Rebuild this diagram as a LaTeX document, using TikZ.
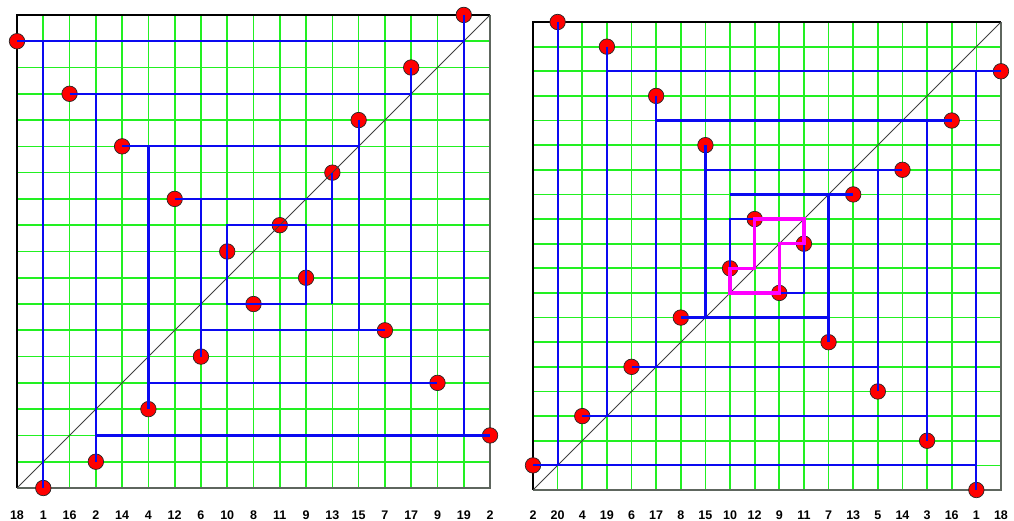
\documentclass[tikz,border=0pt]{standalone}
\usepackage{fontspec}
\setmainfont{Liberation Sans}
\usetikzlibrary{calc}
\definecolor{gridgreen}{HTML}{22F022}
\definecolor{pathblue}{HTML}{0A0AF0}
\definecolor{loopmag}{HTML}{FF00FF}
\definecolor{dotred}{HTML}{FF0000}
\definecolor{edgegray}{HTML}{5E665E}

\begin{document}
\begin{tikzpicture}[x=1pt,y=1pt,
  gridline/.style={gridgreen,line width=1.7pt},
  frameline/.style={black,line width=1.2pt},
  edgeline/.style={edgegray,line width=1.8pt},
  diag/.style={black!75,line width=0.8pt},
  bluepath/.style={pathblue,line width=2.2pt},
  magpath/.style={loopmag,line width=3.2pt,line join=miter},
  perm/.style={circle,fill=dotred,draw=black!85,line width=0.7pt,inner sep=0pt,minimum size=15.5pt},
  numlabel/.style={font=\bfseries\fontsize{12.5}{14}\selectfont}]
        \useasboundingbox (0,0) rectangle (1014,521);
        % grid points of both panels
        \foreach \i in {0,...,18}
          \foreach \j in {0,...,18}
            \coordinate (a\i-\j) at (17+26.28*\i,33+26.28*\j);
        \foreach \i in {0,...,19}
          \foreach \j in {0,...,19}
            \coordinate (b\i-\j) at (533+24.63*\i,31+24.63*\j);
        % left panel
        \foreach \i in {1,...,17} {
          \draw[gridline] (a\i-0) -- (a\i-18);
          \draw[gridline] (a0-\i) -- (a18-\i);
        }
        \draw[edgeline] (a0-0) -- (a18-0) -- (a18-18);
        \draw[frameline] (a0-0) -- (a0-18) -- (a18-18);
        \foreach \i/\r/\t in {0/17/18,1/0/1,2/15/16,3/1/2,4/13/14,5/3/4,6/11/12,7/5/6,8/9/10,9/7/8,10/10/11,11/8/9,12/12/13,13/14/15,14/6/7,15/16/17,16/4/9,17/18/19,18/2/2} {
          \node[perm] (pa\i) at (a\i-\r) {};
          \node[numlabel] (ta\i) at ($(a\i-0)+(0,-27)$) {\t};
        }
        \draw[diag] (a0-0) -- (a18-18);
        \foreach \p/\q in {0-17/17-17,1-17/1-0,17-18/17-2,3-2/18-2,3-1/3-15,2-15/15-15,15-16/15-4,5-4/16-4,5-3/5-13,4-13/13-13,13-14/13-6,7-6/14-6,7-5/7-11,6-11/12-11,12-12/12-7}
          \draw[bluepath] (a\p) -- (a\q);
        \draw[bluepath] (a8-7) -- (a11-7) -- (a11-10) -- (a8-10) -- cycle;
        % right panel
        \foreach \i in {1,...,18} {
          \draw[gridline] (b\i-0) -- (b\i-19);
          \draw[gridline] (b0-\i) -- (b19-\i);
        }
        \draw[edgeline] (b0-0) -- (b19-0) -- (b19-19);
        \draw[frameline] (b0-0) -- (b0-19) -- (b19-19);
        \foreach \i/\r/\t in {0/1/2,1/19/20,2/3/4,3/18/19,4/5/6,5/16/17,6/7/8,7/14/15,8/9/10,9/11/12,10/8/9,11/10/11,12/6/7,13/12/13,14/4/5,15/13/14,16/2/3,17/15/16,18/0/1,19/17/18} {
          \node[perm] (pb\i) at (b\i-\r) {};
          \node[numlabel] (tb\i) at ($(b\i-0)+(0,-25)$) {\t};
        }
        \draw[diag] (b0-0) -- (b19-19);
        \foreach \p/\q in {1-19/1-1,0-1/18-1,18-17/18-0,3-17/19-17,3-18/3-3,2-3/16-3,16-15/16-2,5-15/17-15,5-16/5-5,4-5/14-5,14-13/14-4,7-13/15-13,7-14/7-7,6-7/12-7,12-12/12-6,8-12/13-12}
          \draw[bluepath] (b\p) -- (b\q);
        \draw[bluepath] (b8-8) -- (b11-8) -- (b11-11) -- (b8-11) -- cycle;
        \draw[magpath] (b9-11) -- (b11-11) -- (b11-10) -- (b10-10) -- (b10-8) -- (b8-8) -- (b8-9) -- (b9-9) -- cycle;
      \end{tikzpicture}
\end{document}
